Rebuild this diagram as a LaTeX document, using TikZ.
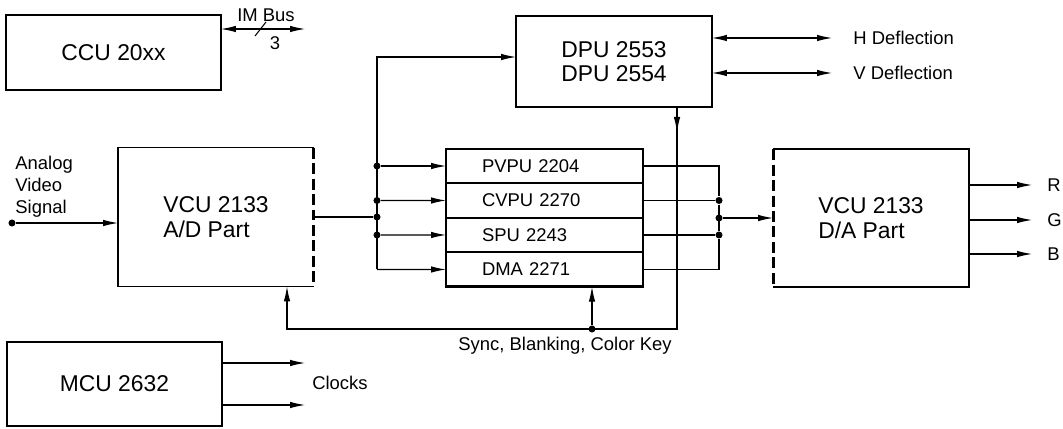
\documentclass[tikz,border=0pt]{standalone}
\usepackage{fontspec}
\setmainfont{Liberation Sans}
\usetikzlibrary{arrows.meta,positioning}

\begin{document}
\begin{tikzpicture}[>={Latex[length=3mm,width=1.3mm]}, x=0.02cm, y=-0.02cm, line width=0.6pt,
  open/.style={minimum width=3.92cm, outer sep=0pt, align=left, font=\fontsize{13}{14}\selectfont},
  box/.style={open, draw, line width=1.1pt, align=center},
  unit/.style={draw, line width=1.1pt, outer sep=0pt, minimum width=3.94cm, minimum height=0.69cm,
    text width=2.5cm, inner xsep=0.72cm, align=left, font=\fontsize{10.5}{12}\selectfont},
  lbl/.style={font=\fontsize{10.5}{12.5}\selectfont},
  dot/.style={circle, fill=black, inner sep=0pt, minimum size=4pt},
  dashside/.style={line width=1.7pt, dash pattern=on 2.2mm off 0.9mm}]
\path[use as bounding box] (0,0) rectangle (1063,429);
\node[box, minimum width=4.3cm, minimum height=1.5cm] (ccu) at (113.5,52.5) {CCU 20xx};
\node[box, minimum width=4.3cm, minimum height=1.68cm] (mcu) at (114.5,384) {MCU 2632};
\node[box, minimum height=1.82cm] (dpu) at (614,61.5) {DPU 2553\\DPU 2554};
\node[open, minimum height=2.78cm] (ad) at (216,217) {VCU 2133\\A/D Part};
\node[open, minimum height=2.76cm] (da) at (871,218) {VCU 2133\\D/A Part};
\draw[line width=1.1pt] (ad.north east) -- (ad.north west) -- (ad.south west) -- (ad.south east);
\draw[dashside] (ad.north east) -- (ad.south east);
\draw[line width=1.1pt] (da.north west) -- (da.north east) -- (da.south east) -- (da.south west);
\draw[dashside] (da.north west) -- (da.south west);

% processor stack
\node[unit] (pvpu) at (544.5,166) {PVPU 2204};
\node[unit, below=0pt of pvpu] (cvpu) {CVPU 2270};
\node[unit, below=0pt of cvpu] (spu) {SPU 2243};
\node[unit, below=0pt of spu] (dma) {DMA 2271};
\draw[line width=1.4pt] (pvpu.north west) rectangle (dma.south east);

% IM bus
\coordinate (imend) at (305,29);
\coordinate (imslash) at (260,29);
\draw[<->] (ccu.east |- imend) -- (imend);
\draw (imslash) ++(-5,7) -- ++(11,-14);
\node[lbl] (imbus) at (266,15) {IM Bus};
\node[lbl] (imwidth) at (275,43) {3};

% video input
\node[dot] (vin) at (12,223) {};
\draw[->] (vin) -- (ad.west |- vin);
\node[lbl, align=left, anchor=north west] (vlab) at (9,150) {Analog\\Video\\Signal};

% data bus
\coordinate (bt) at (377,57);
\coordinate (bb) at (377,269.5);
\node[dot] (j0) at (377,217) {};
\node[dot] (j1) at (377,166) {};
\node[dot] (j2) at (377,200.5) {};
\node[dot] (j3) at (377,235) {};
\draw (ad.east) -- (j0);
\draw[->] (bb) -- (bt) -- (dpu.west |- bt);
\draw[->] (j1) -- (pvpu.west);
\draw[->] (j2) -- (cvpu.west);
\draw[->] (j3) -- (spu.west);
\draw[->] (bb) -- (dma.west);

% outputs to D/A
\coordinate (rc) at (719,218);
\node[dot] (k1) at (cvpu.east -| rc) {};
\node[dot] (k2) at (rc) {};
\node[dot] (k3) at (spu.east -| rc) {};
\draw (pvpu.east) -| (k1) -- (k3) |- (dma.east);
\draw (cvpu.east) -- (k1);
\draw (spu.east) -- (k3);
\draw[->] (k2) -- (da.west);

% deflection
\coordinate (hend) at (832,38);
\coordinate (vend) at (832,73);
\draw[<->] (dpu.east |- hend) -- (hend);
\draw[<->] (dpu.east |- vend) -- (vend);
\node[lbl, right=3mm of hend] (hlab) {H Deflection};
\node[lbl, right=3mm of vend] (vlab2) {V Deflection};

% sync, blanking, color key
\coordinate (sk) at (677,329);
\coordinate (sl) at (287,329);
\node[dot] (sd) at (592,329) {};
\draw[->] (dpu.south -| sk) -- ++(0,25);
\draw[->] (dpu.south -| sk) -- (sk) -- (sl) -- (sl |- ad.south);
\draw[->] (sd) -- (dma.south -| sd);
\node[lbl] (slab) at (565,346) {Sync, Blanking, Color Key};

% RGB
\coordinate (rend) at (1032,185);
\coordinate (gend) at (1032,220);
\coordinate (bend) at (1032,254);
\draw[->] (da.east |- rend) -- (rend);
\draw[->] (da.east |- gend) -- (gend);
\draw[->] (da.east |- bend) -- (bend);
\node[lbl, right=1.8mm of rend] (rlab) {R};
\node[lbl, right=1.8mm of gend] (glab) {G};
\node[lbl, right=1.8mm of bend] (blab) {B};

% clocks
\coordinate (c1) at (305,363);
\coordinate (c2) at (305,405);
\draw[->] (mcu.east |- c1) -- (c1);
\draw[->] (mcu.east |- c2) -- (c2);
\node[lbl] (clab) at (340,383) {Clocks};
\end{tikzpicture}
\end{document}
